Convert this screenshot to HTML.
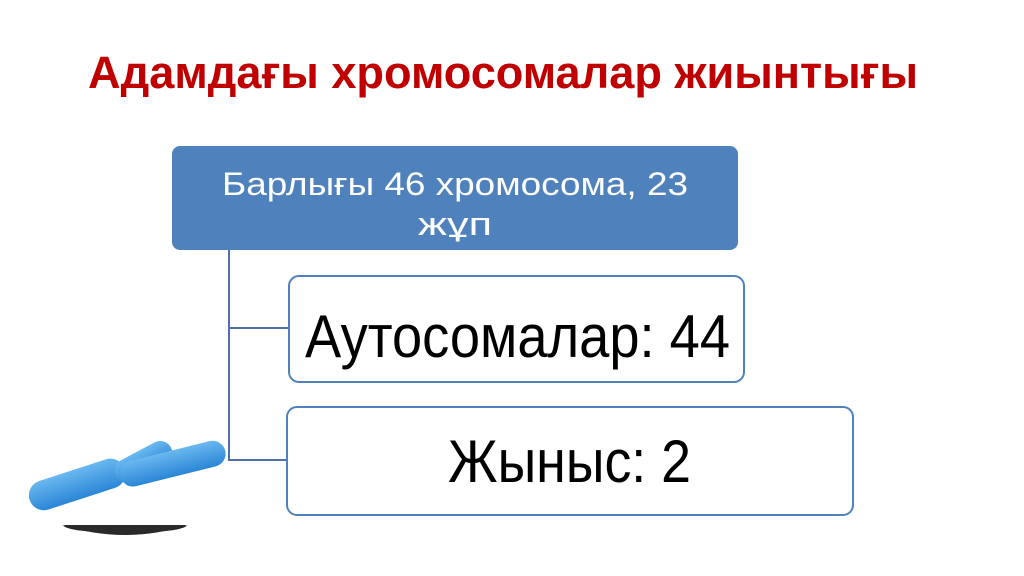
<!DOCTYPE html>
<html><head><meta charset="utf-8"><style>html,body{margin:0;padding:0;background:#fff;}svg{display:block}</style></head>
<body>
<svg width="1024" height="576" viewBox="0 0 1024 576" xmlns="http://www.w3.org/2000/svg" font-family="Liberation Sans, sans-serif">
<rect width="1024" height="576" fill="#fff"/>
<text x="88" y="88" font-size="45" font-weight="bold" fill="#c00000" textLength="830" lengthAdjust="spacingAndGlyphs">Адамдағы хромосомалар жиынтығы</text>
<!-- connectors -->
<path d="M229 250 V460 H288 M229 328 H290" stroke="#4f6fa8" stroke-width="2" fill="none"/>
<!-- top box -->
<rect x="172" y="146" width="566" height="104" rx="8" fill="#4f81bd"/>
<text x="455" y="195" font-size="32" fill="#fff" text-anchor="middle" textLength="466" lengthAdjust="spacingAndGlyphs">Барлығы 46 хромосома, 23</text>
<text x="455" y="235" font-size="32" fill="#fff" text-anchor="middle" textLength="74" lengthAdjust="spacingAndGlyphs">жұп</text>
<!-- box2 -->
<rect x="289" y="276" width="455" height="106" rx="10" fill="#fff" stroke="#4f81bd" stroke-width="2"/>
<text x="305" y="357" font-size="60" fill="#000" textLength="425" lengthAdjust="spacingAndGlyphs">Аутосомалар: 44</text>
<!-- box3 -->
<rect x="287" y="407" width="566" height="108" rx="10" fill="#fff" stroke="#4f81bd" stroke-width="2"/>
<text x="448" y="482" font-size="60" fill="#000" textLength="243" lengthAdjust="spacingAndGlyphs">Жыныс: 2</text>
<!-- chromosome -->
<defs><linearGradient id="g" x1="0" y1="0" x2="0" y2="1"><stop offset="0" stop-color="#6ab8f0"/><stop offset="1" stop-color="#2a86d6"/></linearGradient></defs>
<ellipse cx="125" cy="525" rx="62" ry="8" fill="#222"/>
<rect x="108" y="530" width="40" height="0" fill="#fff"/>
<rect x="30" y="476" width="190" height="50" fill="#fff"/>
<path d="M62 525 Q125 545 188 525 Z" fill="#2a2a2a"/>
<g transform="rotate(-18 60 490)"><rect x="28" y="475" width="100" height="30" rx="15" fill="url(#g)"/></g>
<g transform="rotate(-28 150 455)"><rect x="110" y="446" width="62" height="24" rx="12" fill="url(#g)"/></g>
<g transform="rotate(-14 175 460)"><rect x="118" y="450" width="108" height="26" rx="13" fill="url(#g)"/></g>
</svg>
</body></html>
